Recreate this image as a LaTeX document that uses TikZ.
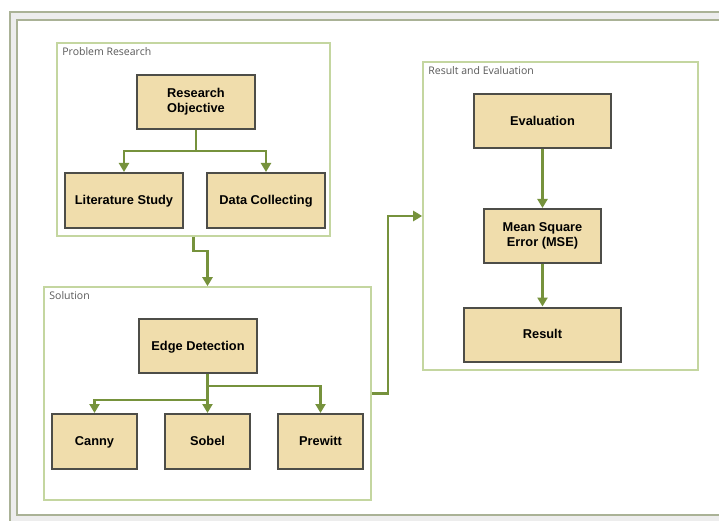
\documentclass[tikz,border=0pt]{standalone}
\usepackage{fontspec}
\setmainfont{Liberation Sans}
\newfontfamily\labelfont{Open Sans}
\definecolor{boxFill}{RGB}{240, 221, 172}
\definecolor{boxLine}{RGB}{77, 77, 72}
\definecolor{oliveArrow}{RGB}{118, 146, 60}
\definecolor{groupLine}{RGB}{196, 214, 160}
\definecolor{frameLine}{RGB}{170, 178, 150}
\usepackage{tikz}
\usetikzlibrary{positioning, calc, arrows.meta, shadows}

\begin{document}
\begin{tikzpicture}[
    x=1pt, y=-1pt,
    stepbox/.style={rectangle, draw=boxLine, line width=2pt, fill=boxFill,
                    inner sep=0pt, align=center, font=\fontsize{12.8}{15}\selectfont\bfseries,
                    drop shadow={opacity=0.25, shadow xshift=1pt, shadow yshift=-1pt}},
    oneline/.style={text height=9.2pt, text depth=0.6pt},
    groupbox/.style={rectangle, draw=groupLine, line width=1.6pt, fill=white, inner sep=0pt,
                    drop shadow={opacity=0.12, shadow xshift=1pt, shadow yshift=-1pt}},
    grouplabel/.style={anchor=north west, inner sep=0pt, text=black!65,
                    font=\labelfont\fontsize{10.5}{12}\selectfont},
    arrow/.style={-{Triangle[width=10pt,length=9pt]}, line width=2.4pt, oliveArrow},
  ]
    \useasboundingbox (0,0) rectangle (719,521);
    \clip (0,0) rectangle (719,521);

    % outer frame
    \draw[frameLine, line width=1.6pt, fill=black!7] (10,12) rectangle (740,545);
    \draw[frameLine, line width=1.6pt, fill=white] (17,20) rectangle (730,515);

    % groups
    \node[groupbox, minimum width=273pt, minimum height=193pt] (PR) at (193.5,139.5) {};
    \node[grouplabel] at ($(PR.north west)+(6,5)$) {Problem Research};
    \node[groupbox, minimum width=327pt, minimum height=213pt] (SOL) at (207.5,393.5) {};
    \node[grouplabel] at ($(SOL.north west)+(6,5)$) {Solution};
    \node[groupbox, minimum width=275pt, minimum height=308pt] (RE) at (560.5,216) {};
    \node[grouplabel] at ($(RE.north west)+(6,5)$) {Result and Evaluation};

    % problem research
    \node[stepbox, minimum width=118pt, minimum height=54pt] (RO) at (196,102) {Research\\Objective};
    \node[stepbox, oneline, minimum width=118pt, minimum height=55pt] (LS) at (124,200.5) {Literature Study};
    \node[stepbox, oneline, minimum width=118pt, minimum height=55pt] (DC) at (266,200.5) {Data Collecting};

    % solution
    \node[stepbox, oneline, minimum width=118pt, minimum height=54pt] (ED) at (198,346) {Edge Detection};
    \node[stepbox, oneline, minimum width=85pt, minimum height=55pt] (CA) at (94.5,441.5) {Canny};
    \node[stepbox, oneline, minimum width=85pt, minimum height=55pt] (SB) at (207.5,441.5) {Sobel};
    \node[stepbox, oneline, minimum width=85pt, minimum height=55pt] (PW) at (320.5,441.5) {Prewitt};

    % result and evaluation
    \node[stepbox, oneline, minimum width=137pt, minimum height=54pt] (EV) at (542.5,121) {Evaluation};
    \node[stepbox, minimum width=117pt, minimum height=54pt] (MSE) at (542.5,236) {Mean Square\\Error (MSE)};
    \node[stepbox, oneline, minimum width=157pt, minimum height=54pt] (RS) at (542.5,334.5) {Result};

    % connectors
    \draw[arrow] (RO.south) -- ++(0,21) -| (LS.north);
    \draw[arrow] (RO.south) -- ++(0,21) -| (DC.north);
    \draw[arrow] (PR.south) -- ++(0,14) -| (SOL.north);
    \draw[arrow] (ED.south -| SB.north) -- (SB.north);
    \draw[arrow] (ED.south -| SB.north) -- ++(0,12) -| (PW.north);
    \draw[arrow] (ED.south -| SB.north) -- ++(0,26) -| (CA.north);
    \draw[arrow] (SOL.east) -- ++(16,0) |- (RE.west);
    \draw[arrow] (EV.south) -- (MSE.north);
    \draw[arrow] (MSE.south) -- (RS.north);
\end{tikzpicture}
\end{document}
